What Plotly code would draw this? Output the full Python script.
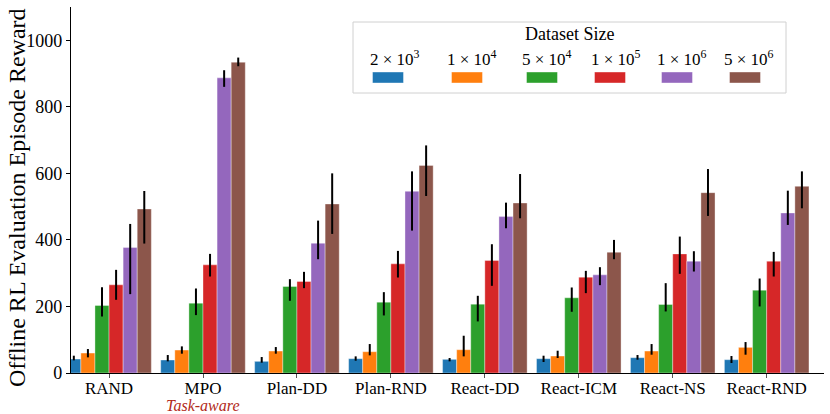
import plotly.graph_objects as go

methods = ["RAND", "MPO", "Plan-DD", "Plan-RND", "React-DD", "React-ICM", "React-NS", "React-RND"]
size_labels = ["2 × 10<sup>3</sup>", "1 × 10<sup>4</sup>", "5 × 10<sup>4</sup>",
               "1 × 10<sup>5</sup>", "1 × 10<sup>6</sup>", "5 × 10<sup>6</sup>"]
colors = ["#1f77b4", "#ff7f0e", "#2ca02c", "#d62728", "#9467bd", "#8c564b"]

# mean reward per dataset size (rows) and method (cols)
reward = [
    [42, 39, 35, 43, 41, 43, 46, 40],
    [60, 69, 66, 64, 70, 51, 66, 77],
    [203, 210, 260, 213, 207, 226, 206, 249],
    [265, 325, 275, 328, 338, 288, 358, 336],
    [377, 887, 390, 546, 470, 295, 336, 481],
    [493, 934, 508, 624, 511, 363, 542, 561],
]
# confidence interval upper / lower ends
ci_hi = [
    [52, 54, 48, 50, 45, 52, 54, 51],
    [72, 80, 78, 87, 112, 67, 87, 93],
    [258, 254, 282, 243, 232, 257, 270, 284],
    [310, 358, 304, 367, 387, 307, 410, 364],
    [448, 910, 458, 606, 512, 318, 366, 548],
    [547, 948, 600, 684, 598, 400, 613, 606],
]
ci_lo = [
    [38, 35, 31, 37, 35, 33, 40, 30],
    [47, 58, 58, 53, 50, 45, 55, 55],
    [170, 174, 217, 173, 155, 184, 185, 200],
    [220, 290, 255, 287, 262, 240, 298, 290],
    [237, 860, 342, 428, 435, 264, 305, 445],
    [389, 922, 418, 532, 465, 342, 472, 495],
]

fig = go.Figure()
for i in range(len(size_labels)):
    fig.add_trace(go.Bar(
        x=methods, y=reward[i], name=size_labels[i],
        marker=dict(color=colors[i], line=dict(color="rgba(255,255,255,0.45)", width=0.8)),
        error_y=dict(type="data", symmetric=False,
                     array=[h - m for h, m in zip(ci_hi[i], reward[i])],
                     arrayminus=[m - l for m, l in zip(reward[i], ci_lo[i])],
                     color="black", thickness=2, width=0),
        showlegend=False,
    ))

# pixel -> paper helpers (plot area 71..824 x 7..373)
def px(x):
    return (x - 71) / 753

def py(y):
    return (373 - y) / 366

serif = "Liberation Serif"

# custom legend box: labels above colour patches
fig.add_shape(type="rect", xref="paper", yref="paper",
              x0=px(353), x1=px(786), y0=py(93), y1=py(22),
              line=dict(color="#d0d0d0", width=1), fillcolor="rgba(255,255,255,0.8)")
fig.add_annotation(text="Dataset Size", xref="paper", yref="paper", x=px(569), y=py(34),
                   xanchor="center", yanchor="middle", showarrow=False,
                   font=dict(family=serif, size=18, color="black"))
label_x = [395, 472, 547, 616, 682, 749]
patch_x = [388, 467, 542, 610, 677, 745]
for i in range(len(size_labels)):
    fig.add_annotation(text=size_labels[i], xref="paper", yref="paper", x=px(label_x[i]), y=py(58),
                       xanchor="center", yanchor="middle", showarrow=False,
                       font=dict(family=serif, size=17, color="black"))
    fig.add_shape(type="rect", xref="paper", yref="paper",
                  x0=px(patch_x[i] - 15.5), x1=px(patch_x[i] + 15.5), y0=py(83), y1=py(72),
                  line=dict(color="rgba(255,255,255,0.5)", width=0.8), fillcolor=colors[i])

fig.add_annotation(text="<i>Task-aware</i>", xref="x", yref="paper", x="MPO", y=py(405),
                   xanchor="center", yanchor="middle", showarrow=False,
                   font=dict(family=serif, size=16, color="#b22a1a"))

# y-axis title placed as rotated text
fig.add_annotation(text="Offline RL Evaluation Episode Reward", xref="paper", yref="paper",
                   x=px(17), y=py(198), xanchor="center", yanchor="middle",
                   textangle=-90, showarrow=False,
                   font=dict(family=serif, size=24, color="black"))

fig.update_layout(
    width=830, height=414,
    margin=dict(l=71, r=6, t=7, b=41),
    paper_bgcolor="white", plot_bgcolor="white",
    barmode="group", bargap=0.1, bargroupgap=0,
    font=dict(family=serif, size=17, color="black"),
)
fig.update_xaxes(range=[-0.405, 7.61], showline=True, linecolor="black", linewidth=1.2,
                 ticks="outside", ticklen=4, tickcolor="#555", showgrid=False, automargin=False,
                 ticklabelstandoff=-5, tickfont=dict(family=serif, size=17))
fig.update_yaxes(range=[0, 1100], showline=True, linecolor="black", linewidth=1.2,
                 ticks="outside", ticklen=4, tickcolor="black", showgrid=False, zeroline=False,
                 automargin=False, tickvals=[0, 200, 400, 600, 800, 1000],
                 tickfont=dict(family=serif, size=18))

fig.write_html("out.html", config={"displayModeBar": False},
               post_script="document.body.style.margin='0';")
